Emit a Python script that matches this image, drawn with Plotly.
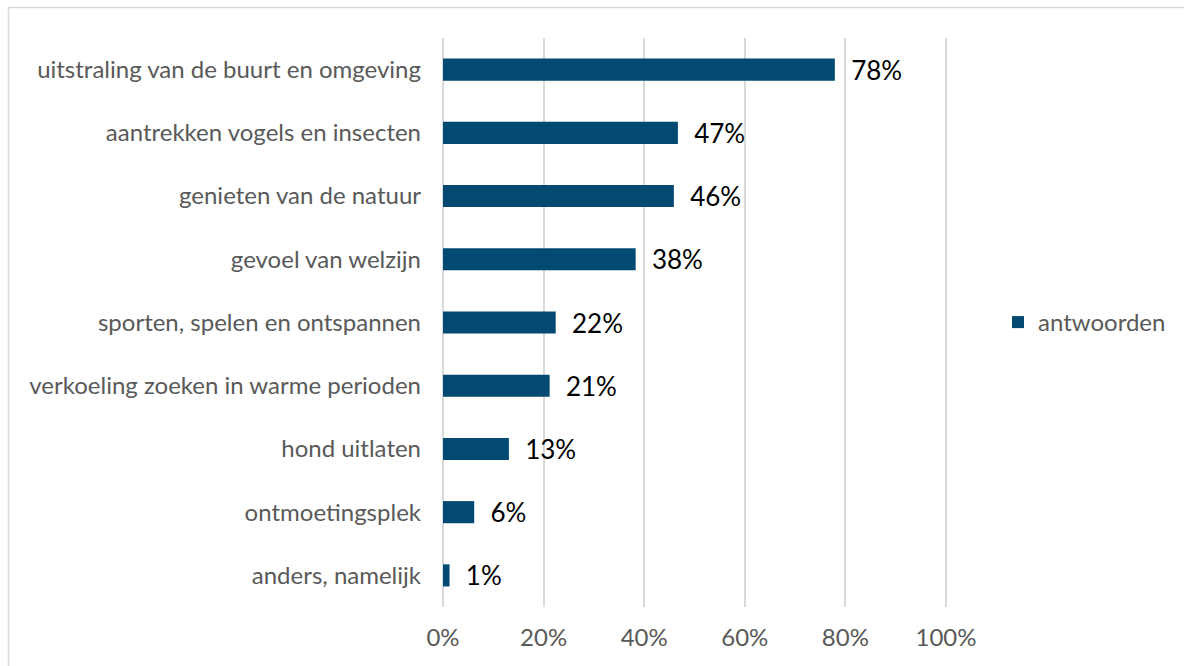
import plotly.graph_objects as go

categories = [
    "uitstraling van de buurt en omgeving",
    "aantrekken vogels en insecten",
    "genieten van de natuur",
    "gevoel van welzijn",
    "sporten, spelen en ontspannen",
    "verkoeling zoeken in warme perioden",
    "hond uitlaten",
    "ontmoetingsplek",
    "anders, namelijk",
]
values = [77.9, 46.7, 45.9, 38.3, 22.4, 21.2, 13.1, 6.2, 1.3]
series_name = "antwoorden"
tick_vals = [0, 20, 40, 60, 80, 100]
tick_text = ["0%", "20%", "40%", "60%", "80%", "100%"]

W, H = 1184, 666
L, R, T, B = 442, 237, 38, 59
pw, ph = W - L - R, H - T - B

fig = go.Figure()
fig.add_trace(go.Bar(
    x=values, y=categories, orientation="h", name=series_name,
    marker=dict(color="#034a73", line=dict(width=0)),
    texttemplate="\u00a0\u00a0%{x:.0f}%", textposition="outside",
    constraintext="none",
    textfont=dict(family="Lato", size=26, color="#000000"),
    cliponaxis=False, showlegend=True,
))

fig.update_layout(
    width=W, height=H,
    margin=dict(l=L, r=R, t=T, b=B, pad=0),
    paper_bgcolor="white", plot_bgcolor="white",
    font=dict(family="Lato", size=24, color="#595959"),
    bargap=0.65,
    xaxis=dict(range=[-0.2, 100.2], tickvals=tick_vals, ticktext=tick_text,
               showgrid=True, gridcolor="#d9d9d9", gridwidth=1.5,
               zeroline=False, showline=False, ticks="",
               ticklabelstandoff=14,
               tickfont=dict(family="Lato", size=24, color="#595959")),
    yaxis=dict(autorange="reversed", showgrid=False, zeroline=False,
               showline=False, ticks="", ticklabelstandoff=20,
               tickfont=dict(family="Lato", size=24, color="#595959")),
    legend=dict(xref="container", x=998 / W, y=0.5, xanchor="left", yanchor="middle",
                font=dict(family="Lato", size=24, color="#595959"),
                itemwidth=30, bgcolor="rgba(0,0,0,0)"),
    shapes=[dict(type="rect", xref="paper", yref="paper",
                 x0=(8.5 - L) / pw, x1=(W + 20 - L) / pw,
                 y0=-(H + 20 - T - ph) / ph, y1=(H - B - 7.5) / ph,
                 line=dict(color="#d9d9d9", width=1.5), fillcolor="rgba(0,0,0,0)",
                 layer="below")],
)

fig.write_html("out.html", config={"displayModeBar": False},
               post_script="document.body.style.margin='0';document.body.style.overflow='hidden';")
